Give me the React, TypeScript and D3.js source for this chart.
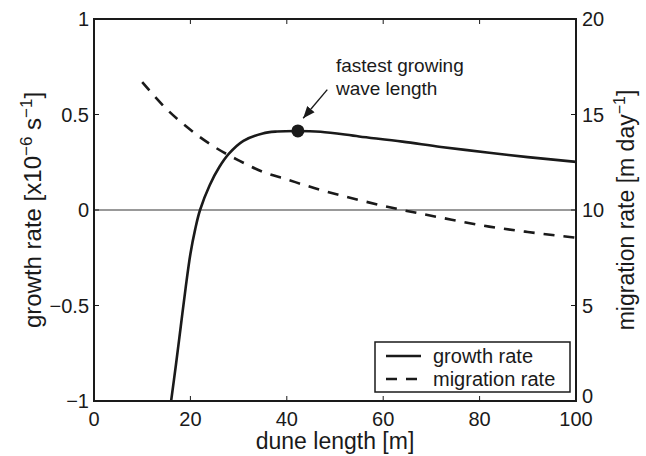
import React, { useEffect, useRef } from 'react';
import * as d3 from 'd3';

// growth rate [x10^-6 s^-1] vs dune length [m]
const growthX = [16, 17, 18, 19, 20, 21, 22, 24, 26, 28, 31, 35, 38, 42, 47, 55, 64, 72, 82, 90, 100];
const growthY = [-1.0, -0.81, -0.61, -0.41, -0.23, -0.10, 0.0, 0.13, 0.225, 0.295, 0.362, 0.401, 0.411, 0.414, 0.41, 0.385, 0.358, 0.33, 0.30, 0.277, 0.252];

// migration rate [m day^-1] vs dune length [m]
const migX = [10, 15, 20, 25, 30, 35, 40, 47, 55, 64, 72, 82, 90, 100];
const migY = [16.7, 15.3, 14.2, 13.3, 12.6, 12.0, 11.6, 11.05, 10.52, 10.0, 9.6, 9.13, 8.85, 8.55];

const peak = { x: 42.3, y: 0.414 };

const xTicks = [0, 20, 40, 60, 80, 100];
const yLeftTicks = [-1, -0.5, 0, 0.5, 1];
const yRightTicks = [0, 5, 10, 15, 20];
const legendLabels = ['growth rate', 'migration rate'];

function App() {
  const canvas = useRef<SVGSVGElement>(null);

  useEffect(() => {
    const width = 646;
    const height = 456;
    const margin = { top: 19, left: 94, bottom: 55, right: 70 };
    const iwidth = width - margin.left - margin.right;
    const iheight = height - margin.top - margin.bottom;
    const font = '"Liberation Sans", Arial, Helvetica, sans-serif';
    const ink = '#1a1a1a';

    const svg = d3.select(canvas.current).attr('width', width).attr('height', height);
    svg.selectAll('*').remove();

    const g = svg.append('g').attr('transform', `translate(${margin.left},${margin.top})`);

    const x = d3.scaleLinear().domain([0, 100]).range([0, iwidth]);
    const yL = d3.scaleLinear().domain([-1, 1]).range([iheight, 0]);
    const yR = d3.scaleLinear().domain([0, 20]).range([iheight, 0]);

    // zero line
    g.append('line')
      .attr('x1', 0).attr('x2', iwidth)
      .attr('y1', yL(0)).attr('y2', yL(0))
      .attr('stroke', '#777').attr('stroke-width', 1.5);

    // curves
    const growth = growthX.map((d, i) => [d, growthY[i]] as [number, number]);
    const mig = migX.map((d, i) => [d, migY[i]] as [number, number]);

    g.append('path')
      .datum(growth)
      .attr('d', d3.line<[number, number]>().x(d => x(d[0])).y(d => yL(d[1])).curve(d3.curveCatmullRom.alpha(0.5)))
      .attr('fill', 'none').attr('stroke', ink).attr('stroke-width', 2.6);

    g.append('path')
      .datum(mig)
      .attr('d', d3.line<[number, number]>().x(d => x(d[0])).y(d => yR(d[1])).curve(d3.curveMonotoneX))
      .attr('fill', 'none').attr('stroke', ink).attr('stroke-width', 2.6)
      .attr('stroke-dasharray', '11,9');

    // peak marker
    g.append('circle')
      .attr('cx', x(peak.x)).attr('cy', yL(peak.y)).attr('r', 6.5)
      .attr('fill', ink);

    // annotation
    svg.append('defs').append('marker')
      .attr('id', 'head')
      .attr('viewBox', '0 0 10 10')
      .attr('refX', 10).attr('refY', 5)
      .attr('markerWidth', 12).attr('markerHeight', 12)
      .attr('markerUnits', 'userSpaceOnUse')
      .attr('orient', 'auto')
      .append('path').attr('d', 'M0,1 L10,5 L0,9 Z').attr('fill', ink);

    g.append('line')
      .attr('x1', x(48.4)).attr('y1', yL(0.63))
      .attr('x2', x(43.4)).attr('y2', yL(0.48))
      .attr('stroke', ink).attr('stroke-width', 1.4)
      .attr('marker-end', 'url(#head)');

    const note = g.append('text')
      .attr('x', x(50.2))
      .attr('font-family', font).attr('font-size', 19).attr('fill', ink);
    note.append('tspan').attr('x', x(50.2)).attr('y', yL(0.72)).text('fastest growing');
    note.append('tspan').attr('x', x(50.2)).attr('y', yL(0.6)).text('wave length');

    // box
    g.append('rect')
      .attr('width', iwidth).attr('height', iheight)
      .attr('fill', 'none').attr('stroke', ink).attr('stroke-width', 2);

    // x ticks (bottom + top, inward)
    xTicks.forEach(t => {
      g.append('line').attr('x1', x(t)).attr('x2', x(t)).attr('y1', iheight).attr('y2', iheight - 5)
        .attr('stroke', ink).attr('stroke-width', 1);
      g.append('line').attr('x1', x(t)).attr('x2', x(t)).attr('y1', 0).attr('y2', 5)
        .attr('stroke', ink).attr('stroke-width', 1);
      g.append('text').attr('x', x(t)).attr('y', iheight + 25)
        .attr('text-anchor', 'middle')
        .attr('font-family', font).attr('font-size', 20).attr('fill', ink)
        .text(String(t));
    });

    // left y ticks
    yLeftTicks.forEach(t => {
      g.append('line').attr('x1', 0).attr('x2', 5).attr('y1', yL(t)).attr('y2', yL(t))
        .attr('stroke', ink).attr('stroke-width', 1);
      g.append('text').attr('x', -5).attr('y', yL(t)).attr('dy', '0.35em')
        .attr('text-anchor', 'end')
        .attr('font-family', font).attr('font-size', 20).attr('fill', ink)
        .text(t < 0 ? '\u2212' + String(-t) : String(t));
    });

    // right y ticks
    yRightTicks.forEach(t => {
      g.append('line').attr('x1', iwidth).attr('x2', iwidth - 5).attr('y1', yR(t)).attr('y2', yR(t))
        .attr('stroke', ink).attr('stroke-width', 1);
      g.append('text').attr('x', iwidth + 6).attr('y', yR(t)).attr('dy', t === 0 ? '0.1em' : '0.35em')
        .attr('text-anchor', 'start')
        .attr('font-family', font).attr('font-size', 20).attr('fill', ink)
        .text(String(t));
    });

    // axis labels
    g.append('text')
      .attr('x', iwidth / 2).attr('y', iheight + 48)
      .attr('text-anchor', 'middle')
      .attr('font-family', font).attr('font-size', 23).attr('fill', ink)
      .text('dune length [m]');

    const yl = g.append('text')
      .attr('transform', `translate(${-margin.left + 41},${iheight / 2}) rotate(-90)`)
      .attr('text-anchor', 'middle')
      .attr('font-family', font).attr('font-size', 24).attr('fill', ink);
    yl.append('tspan').text('growth rate [x10');
    yl.append('tspan').attr('dy', -9).attr('font-size', 17).text('\u22126');
    yl.append('tspan').attr('dy', 9).text(' s');
    yl.append('tspan').attr('dy', -9).attr('font-size', 17).text('\u22121');
    yl.append('tspan').attr('dy', 9).text(']');

    const yr = g.append('text')
      .attr('transform', `translate(${iwidth + 58},${iheight / 2}) rotate(-90)`)
      .attr('text-anchor', 'middle')
      .attr('font-family', font).attr('font-size', 23).attr('fill', ink);
    yr.append('tspan').text('migration rate [m day');
    yr.append('tspan').attr('dy', -9).attr('font-size', 16).text('\u22121');
    yr.append('tspan').attr('dy', 9).text(']');

    // legend
    const lg = svg.append('g').attr('transform', 'translate(375,342)');
    lg.append('rect').attr('width', 195).attr('height', 50)
      .attr('fill', 'white').attr('stroke', ink).attr('stroke-width', 1.5);
    legendLabels.forEach((label, i) => {
      const cy = 14 + i * 23;
      lg.append('line').attr('x1', 11).attr('x2', 46).attr('y1', cy).attr('y2', cy)
        .attr('stroke', ink).attr('stroke-width', 2.6)
        .attr('stroke-dasharray', i === 1 ? '11,9' : null);
      lg.append('text').attr('x', 58).attr('y', cy).attr('dy', '0.35em')
        .attr('font-family', font).attr('font-size', 20).attr('fill', ink)
        .text(label);
    });
  });

  return (
    <div id="canvas">
      <svg ref={canvas} style={{ position: 'absolute', left: 0, top: 0, background: 'white' }}></svg>
    </div>
  );
}

export default App;
